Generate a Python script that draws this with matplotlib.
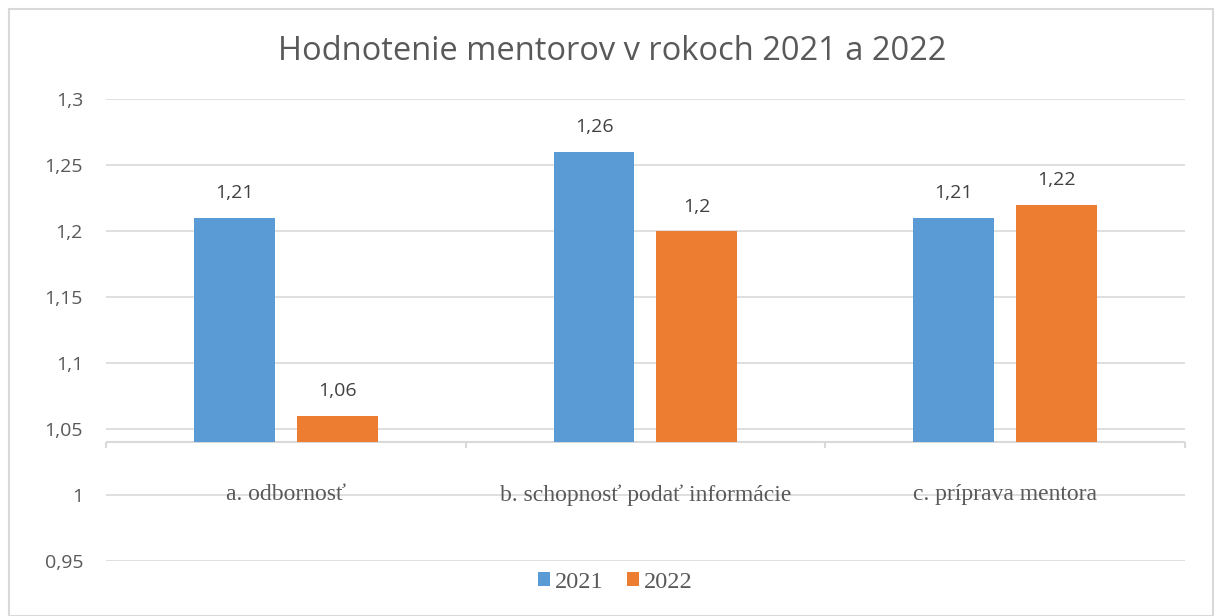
import matplotlib
matplotlib.use("Agg")
import matplotlib.pyplot as plt
from matplotlib.patches import Rectangle, Patch

categories = ["a. odbornosť", "b. schopnosť podať informácie", "c. príprava mentora"]
series_names = ["2021", "2022"]
values_2021 = [1.21, 1.26, 1.21]
values_2022 = [1.06, 1.20, 1.22]
yticks = [0.95, 1.0, 1.05, 1.1, 1.15, 1.2, 1.25, 1.3]
base = 1.04  # horizontal axis crosses here

colors = ["#5B9BD5", "#ED7D31"]
grid_c = "#D9D9D9"
txt_c = "#595959"
sans = ["Open Sans", "DejaVu Sans"]
serif = ["Liberation Serif", "DejaVu Serif"]


def fmt(v):
    return f"{v:g}".replace(".", ",")


fig = plt.figure(figsize=(12.15, 6.16), dpi=100)
ax = fig.add_axes([0.0872, 0.0893, 0.8881, 0.75])

bw = 0.225
off = 0.143
xs = list(range(len(categories)))
for vals, col, sgn in [(values_2021, colors[0], -1), (values_2022, colors[1], 1)]:
    pos = [x + sgn * off for x in xs]
    heights = [v - base for v in vals]
    ax.bar(pos, heights, bottom=base, width=bw, color=col, zorder=3)
    for p, v in zip(pos, vals):
        ax.annotate(fmt(v), (p, v), xytext=(0, 17.5), textcoords="offset points",
                    ha="center", va="center", fontsize=14, color="#404040",
                    family=sans)

ax.set_xlim(-0.5, len(categories) - 0.5)
ax.set_ylim(yticks[0], yticks[-1])
ax.set_yticks(yticks)
ax.set_yticklabels([fmt(v) for v in yticks], family=sans, fontsize=14, color=txt_c)
ax.tick_params(axis="y", length=0, pad=16.5)
ax.set_xticks([])
ax.yaxis.grid(True, color=grid_c, linewidth=1.2, zorder=0)
ax.set_axisbelow(True)
for s in ax.spines.values():
    s.set_visible(False)

# category axis line with ticks between categories
ax.axhline(base, color=grid_c, linewidth=1.5, zorder=2)
bounds = [x - 0.5 for x in xs] + [xs[-1] + 0.5]
ax.vlines(bounds, base - 0.0045, base, color=grid_c, linewidth=1.5, zorder=2,
          clip_on=False)

for x, c in zip(xs, categories):
    ax.text(x, 1.0, c, ha="center", va="center", fontsize=17, color=txt_c,
            family=serif, zorder=4)

fig.text(0.504, 0.9156, "Hodnotenie mentorov v rokoch 2021 a 2022",
         ha="center", va="center", fontsize=23.5, color=txt_c, family=sans)

handles = [Patch(facecolor=c, edgecolor="none") for c in colors]
leg = fig.legend(handles, series_names, loc="center", bbox_to_anchor=(0.5066, 0.055),
                 ncol=2, frameon=False, handlelength=0.5, handleheight=0.5,
                 handletextpad=0.2, columnspacing=0.95,
                 prop={"family": serif, "size": 17.5})
for t in leg.get_texts():
    t.set_color(txt_c)

fig.patches.append(Rectangle((9 / 1215, 0.0), 1204 / 1215, 1 - 9 / 616,
                             transform=fig.transFigure, fill=False,
                             edgecolor=grid_c, linewidth=1.5))

fig.savefig("out.png", dpi=100)
